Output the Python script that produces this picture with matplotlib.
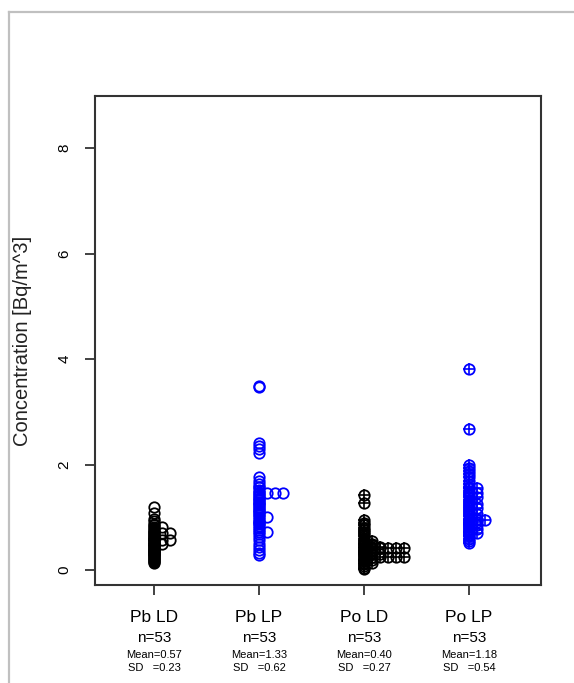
import numpy as np
import matplotlib
matplotlib.use("Agg")
from matplotlib import pyplot as plt
from matplotlib import transforms
from matplotlib.lines import Line2D

plt.rcParams['font.family'] = ['Liberation Sans', 'DejaVu Sans']

# data (Bq/m^3), 53 samples per group
pb_ld = [1.19, 1.08, 0.98, 0.93, 0.88, 0.85, 0.82, 0.82, 0.80, 0.77,
         0.74, 0.72, 0.70, 0.70, 0.70, 0.68, 0.66, 0.64, 0.63, 0.61,
         0.60, 0.59, 0.57, 0.57, 0.57, 0.55, 0.54, 0.52, 0.50, 0.50,
         0.49, 0.47, 0.46, 0.45, 0.43, 0.42, 0.40, 0.39, 0.37, 0.36,
         0.34, 0.33, 0.31, 0.30, 0.28, 0.27, 0.25, 0.23, 0.21, 0.19,
         0.17, 0.15, 0.13]
pb_lp = [3.50, 3.47, 2.42, 2.36, 2.30, 2.22, 1.76, 1.70, 1.64, 1.58,
         1.57, 1.52, 1.48, 1.46, 1.46, 1.46, 1.46, 1.42, 1.40, 1.37,
         1.35, 1.33, 1.30, 1.28, 1.25, 1.23, 1.20, 1.18, 1.15, 1.12,
         1.10, 1.07, 1.04, 1.00, 1.00, 0.97, 0.94, 0.92, 0.90, 0.87,
         0.84, 0.80, 0.76, 0.72, 0.72, 0.68, 0.63, 0.57, 0.50, 0.44,
         0.38, 0.33, 0.29]
po_ld = [1.42, 1.28, 0.96, 0.90, 0.85, 0.80, 0.76, 0.72, 0.68, 0.64,
         0.60, 0.56, 0.56, 0.52, 0.50, 0.50, 0.47, 0.47, 0.44, 0.44,
         0.44, 0.42, 0.42, 0.42, 0.42, 0.42, 0.42, 0.38, 0.36, 0.36,
         0.34, 0.32, 0.32, 0.30, 0.30, 0.30, 0.28, 0.25, 0.25, 0.25,
         0.25, 0.25, 0.25, 0.22, 0.20, 0.20, 0.17, 0.14, 0.14, 0.11,
         0.08, 0.05, 0.02]
po_lp = [3.82, 2.68, 2.00, 1.94, 1.88, 1.82, 1.76, 1.70, 1.64, 1.58,
         1.55, 1.55, 1.50, 1.46, 1.46, 1.42, 1.38, 1.38, 1.34, 1.30,
         1.26, 1.26, 1.22, 1.18, 1.18, 1.14, 1.10, 1.06, 1.06, 1.02,
         0.98, 0.98, 0.95, 0.95, 0.95, 0.92, 0.92, 0.90, 0.88, 0.86,
         0.86, 0.82, 0.78, 0.78, 0.74, 0.72, 0.70, 0.70, 0.67, 0.64,
         0.60, 0.56, 0.52]

groups = ['Pb LD', 'Pb LP', 'Po LD', 'Po LP']
series = [pb_ld, pb_lp, po_ld, po_lp]
colors = ['black', 'blue', 'black', 'blue']
crossed = [False, False, True, True]
n_labels = ['n=53', 'n=53', 'n=53', 'n=53']
mean_labels = ['Mean=0.57', 'Mean=1.33', 'Mean=0.40', 'Mean=1.18']
sd_labels = ['SD   =0.23', 'SD   =0.62', 'SD   =0.27', 'SD   =0.54']

W, H = 574, 683
fig = plt.figure(figsize=(W / 100, H / 100), dpi=100)
ax = fig.add_axes([95 / W, 1 - 585 / H, (541 - 95) / W, (585 - 96) / H])

step = 0.076  # stack offset for tied values (like stripchart method="stack")
for i, (vals, col, cr) in enumerate(zip(series, colors, crossed)):
    seen = {}
    xs = []
    for v in vals:
        k = seen.get(v, 0)
        seen[v] = k + 1
        xs.append(i + 1 + k * step)
    ax.plot(xs, vals, linestyle='none', marker='o', markersize=7.5,
            markerfacecolor='none', markeredgecolor=col, markeredgewidth=1.3)
    if cr:
        ax.plot(xs, vals, linestyle='none', marker='+', markersize=8.5,
                markeredgecolor=col, markeredgewidth=1.2)

ax.set_xlim(0.438, 4.686)
ax.set_ylim(-0.28, 8.99)
ax.set_yticks([0, 2, 4, 6, 8])
ax.set_yticklabels(['0', '2', '4', '6', '8'], rotation=90, va='center', fontsize=11)
ax.set_xticks([1, 2, 3, 4])
ax.set_xticklabels([])
ax.tick_params(direction='out', length=7, width=1.3, color='#333333', pad=6)
ax.tick_params(axis='y', pad=10)
for s in ax.spines.values():
    s.set_linewidth(1.5)
    s.set_color('#333333')
ax.set_ylabel('Concentration [Bq/m^3]', fontsize=14.5, color='#222222', labelpad=18)

# labels under each group
trans = transforms.blended_transform_factory(ax.transData, fig.transFigure)
for i in range(4):
    x = i + 1
    ax.text(x, 1 - 618 / H, groups[i], transform=trans, ha='center', va='center', fontsize=12.5)
    ax.text(x, 1 - 638 / H, n_labels[i], transform=trans, ha='center', va='center', fontsize=11)
    ax.text(x, 1 - 655 / H, mean_labels[i], transform=trans, ha='center', va='center', fontsize=8)
    ax.text(x, 1 - 668 / H, sd_labels[i], transform=trans, ha='center', va='center', fontsize=8)

# grey outer frame of the window
fig.add_artist(Line2D([9 / W, 1], [1 - 12 / H, 1 - 12 / H], color='#c0c0c0', linewidth=1.6))
fig.add_artist(Line2D([9 / W, 9 / W], [0, 1 - 12 / H], color='#c0c0c0', linewidth=1.6))

fig.savefig('out.png', dpi=100)
